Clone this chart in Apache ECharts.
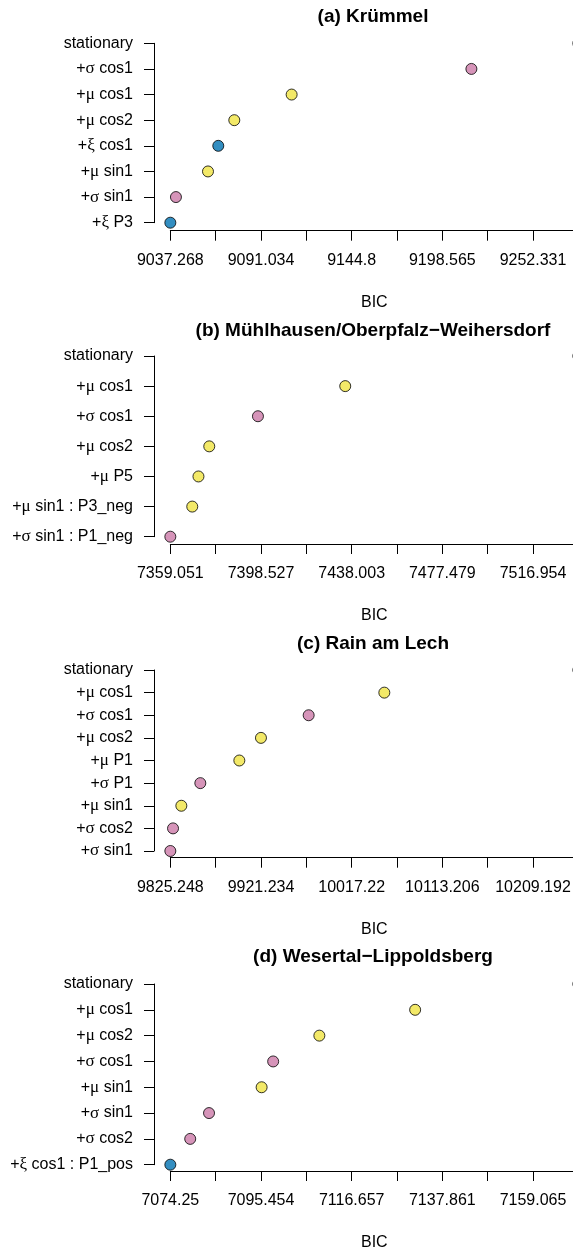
<!DOCTYPE html>
<html>
<head>
<meta charset="utf-8">
<script src="https://cdn.jsdelivr.net/npm/echarts@6/dist/echarts.min.js"></script>
<style>
  html, body { margin: 0; padding: 0; background: #fff; overflow: hidden; }
  #chart { width: 600px; height: 1252px; }
</style>
</head>
<body>
<div id="chart"></div>
<script>
// ---------- data ----------
const titles = [
  '(a) Krümmel',
  '(b) Mühlhausen/Oberpfalz\u2212Weihersdorf',
  '(c) Rain am Lech',
  '(d) Wesertal\u2212Lippoldsberg'
];

const catsA = ['stationary', '+σ cos1', '+μ cos1', '+μ cos2', '+ξ cos1', '+μ sin1', '+σ sin1', '+ξ P3'];
const bicA  = [9279.214, 9215.8, 9109.2, 9075.2, 9065.7, 9059.6, 9040.6, 9037.268];
const ticksA = [9037.268, 9064.151, 9091.034, 9117.917, 9144.8, 9171.682, 9198.565, 9225.448, 9252.331, 9279.214];
const labelsA = ['9037.268', '9091.034', '9144.8', '9198.565', '9252.331'];

const catsB = ['stationary', '+μ cos1', '+σ cos1', '+μ cos2', '+μ P5', '+μ sin1 : P3_neg', '+σ sin1 : P1_neg'];
const bicB  = [7536.692, 7435.2, 7397.2, 7376.0, 7371.3, 7368.6, 7359.051];
const ticksB = [7359.051, 7378.789, 7398.527, 7418.265, 7438.003, 7457.741, 7477.479, 7497.216, 7516.954, 7536.692];
const labelsB = ['7359.051', '7398.527', '7438.003', '7477.479', '7516.954'];

const catsC = ['stationary', '+μ cos1', '+σ cos1', '+μ cos2', '+μ P1', '+σ P1', '+μ sin1', '+σ cos2', '+σ sin1'];
const bicC  = [10257.185, 10051.8, 9971.7, 9921.2, 9898.3, 9857.0, 9836.9, 9828.1, 9825.248];
const ticksC = [9825.248, 9873.241, 9921.234, 9969.227, 10017.22, 10065.213, 10113.206, 10161.199, 10209.192, 10257.185];
const labelsC = ['9825.248', '9921.234', '10017.22', '10113.206', '10209.192'];

const catsD = ['stationary', '+μ cos1', '+μ cos2', '+σ cos1', '+μ sin1', '+σ sin1', '+σ cos2', '+ξ cos1 : P1_pos'];
const bicD  = [7169.667, 7131.5, 7109.1, 7098.3, 7095.6, 7083.3, 7078.9, 7074.25];
const ticksD = [7074.25, 7084.852, 7095.454, 7106.055, 7116.657, 7127.259, 7137.861, 7148.463, 7159.065, 7169.667];
const labelsD = ['7074.25', '7095.454', '7116.657', '7137.861', '7159.065'];

const paramColors = { 'μ': '#F0E442', 'σ': '#CC79A7', 'ξ': '#0072B2', 'none': '#BBBBBB' };

// ---------- layout ----------
const panels = [
  { cats: catsA, bic: bicA, ticks: ticksA, labels: labelsA, top: 43.3, bottom: 222.7, off: 8.0, titleY: 17 },
  { cats: catsB, bic: bicB, ticks: ticksB, labels: labelsB, top: 356.0, bottom: 536.7, off: 7.3, titleY: 330.3 },
  { cats: catsC, bic: bicC, ticks: ticksC, labels: labelsC, top: 670.0, bottom: 851.0, off: 6.7, titleY: 643.7 },
  { cats: catsD, bic: bicD, ticks: ticksD, labels: labelsD, top: 984.0, bottom: 1165.0, off: 6.3, titleY: 957 }
];

const FONT = 'Liberation Sans, Arial, Helvetica, sans-serif';
const GRID_LEFT = 170.33;
const GRID_WIDTH = 408;

function paramOf(cat) {
  const m = cat.match(/[μσξ]/);
  return m ? m[0] : 'none';
}
function greekRich(s) {
  return s.replace(/([μσξ])/g, '{g|$1}');
}

const grids = [], xAxes = [], yAxes = [], series = [], graphics = [];
panels.forEach((p, i) => {
  grids.push({ left: GRID_LEFT, width: GRID_WIDTH, top: p.top, height: p.bottom - p.top });
  xAxes.push({
    type: 'value', gridIndex: i,
    min: p.ticks[0], max: p.ticks[p.ticks.length - 1],
    offset: p.off,
    axisLine: { show: true, lineStyle: { color: '#000', width: 1 } },
    axisTick: { show: true, length: 10, customValues: p.ticks, lineStyle: { color: '#000', width: 1 } },
    axisLabel: {
      customValues: p.labels.map(Number),
      formatter: v => {
        const idx = p.labels.map(Number).findIndex(t => Math.abs(t - v) < 1e-6);
        return idx >= 0 ? p.labels[idx] : '';
      },
      margin: 22, fontSize: 16, color: '#000', fontFamily: FONT
    },
    splitLine: { show: false },
    name: 'BIC', nameLocation: 'middle', nameGap: 64,
    nameTextStyle: { fontSize: 16, color: '#000', fontFamily: FONT }
  });
  yAxes.push({
    type: 'category', gridIndex: i, data: p.cats, inverse: true, boundaryGap: false,
    offset: 16.33,
    axisLine: { show: true, lineStyle: { color: '#000', width: 1 } },
    axisTick: { show: true, length: 10, interval: 0, lineStyle: { color: '#000', width: 1 } },
    axisLabel: {
      interval: 0, margin: 21, fontSize: 16, color: '#000', fontFamily: FONT,
      formatter: v => greekRich(v),
      rich: { g: { fontFamily: 'Liberation Serif, DejaVu Serif, serif', fontSize: 17, color: '#000' } }
    },
    splitLine: { show: false }
  });
  series.push({
    type: 'scatter', xAxisIndex: i, yAxisIndex: i,
    symbol: 'circle', symbolSize: 11, clip: false,
    data: p.cats.map((c, k) => ({
      value: [p.bic[k], c],
      itemStyle: { color: paramColors[paramOf(c)], borderColor: '#000', borderWidth: 1 }
    })),
    emphasis: { disabled: true }
  });
  graphics.push({
    type: 'text', x: 373, y: p.titleY,
    style: { text: titles[i], fontSize: 19, fontWeight: 'bold', fontFamily: FONT,
             fill: '#000', textAlign: 'center', textVerticalAlign: 'middle' }
  });
});

const chart = echarts.init(document.getElementById('chart'), null, { renderer: 'canvas' });
chart.setOption({
  animation: false,
  backgroundColor: '#fff',
  grid: grids, xAxis: xAxes, yAxis: yAxes, series: series, graphic: graphics
});
</script>
</body>
</html>
